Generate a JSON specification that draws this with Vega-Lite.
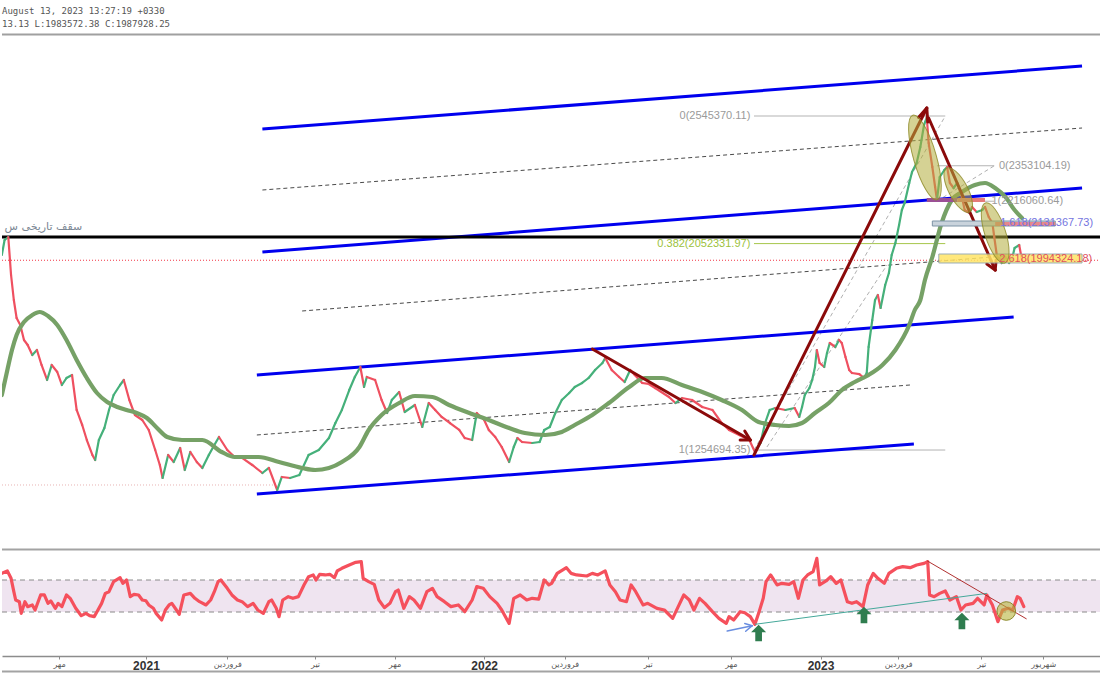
{
  "$schema": "https://vega.github.io/schema/vega-lite/v6.json",
  "padding": 0,
  "spacing": 0,
  "background": "#ffffff",
  "config": {"view": {"stroke": null}},
  "datasets": {
    "price": [
      {"d": -156, "p": 2008300}, {"d": -153, "p": 2066200}, {"d": -149, "p": 2077800}, {"d": -146, "p": 1931000},
      {"d": -143, "p": 1834400}, {"d": -140, "p": 1764900}, {"d": -136, "p": 1737800}, {"d": -132, "p": 1679800},
      {"d": -128, "p": 1660500}, {"d": -123, "p": 1621900}, {"d": -118, "p": 1641200}, {"d": -113, "p": 1583300},
      {"d": -107, "p": 1525300}, {"d": -102, "p": 1583300}, {"d": -96, "p": 1556200}, {"d": -91, "p": 1506000},
      {"d": -86, "p": 1533000}, {"d": -80, "p": 1544600}, {"d": -75, "p": 1409400}, {"d": -69, "p": 1351400},
      {"d": -64, "p": 1293400}, {"d": -58, "p": 1235500}, {"d": -55, "p": 1216200}, {"d": -51, "p": 1293400},
      {"d": -45, "p": 1339800}, {"d": -40, "p": 1409400}, {"d": -35, "p": 1467300}, {"d": -28, "p": 1506000},
      {"d": -24, "p": 1525300}, {"d": -18, "p": 1448000}, {"d": -12, "p": 1390100}, {"d": -4, "p": 1370700},
      {"d": 3, "p": 1332100}, {"d": 10, "p": 1254800}, {"d": 15, "p": 1196900}, {"d": 18, "p": 1146600},
      {"d": 24, "p": 1235500}, {"d": 30, "p": 1208500}, {"d": 37, "p": 1262500}, {"d": 42, "p": 1177500},
      {"d": 48, "p": 1247100}, {"d": 55, "p": 1208500}, {"d": 61, "p": 1185300}, {"d": 68, "p": 1235500},
      {"d": 74, "p": 1274100}, {"d": 79, "p": 1305100}, {"d": 88, "p": 1254800}, {"d": 96, "p": 1227800},
      {"d": 104, "p": 1224000}, {"d": 115, "p": 1196900}, {"d": 126, "p": 1165900}, {"d": 133, "p": 1185300},
      {"d": 142, "p": 1100200}, {"d": 147, "p": 1150500}, {"d": 156, "p": 1146600}, {"d": 166, "p": 1158200},
      {"d": 176, "p": 1235500}, {"d": 187, "p": 1254800}, {"d": 198, "p": 1301100}, {"d": 205, "p": 1359100},
      {"d": 212, "p": 1409400}, {"d": 220, "p": 1486600}, {"d": 226, "p": 1536900}, {"d": 232, "p": 1575600},
      {"d": 236, "p": 1498300}, {"d": 239, "p": 1536900}, {"d": 248, "p": 1525300}, {"d": 255, "p": 1448000},
      {"d": 261, "p": 1397800}, {"d": 266, "p": 1448000}, {"d": 274, "p": 1478900}, {"d": 280, "p": 1401700},
      {"d": 291, "p": 1428700}, {"d": 299, "p": 1343700}, {"d": 306, "p": 1436400}, {"d": 313, "p": 1409400},
      {"d": 320, "p": 1382400}, {"d": 329, "p": 1359100}, {"d": 339, "p": 1332100}, {"d": 345, "p": 1301100},
      {"d": 353, "p": 1293400}, {"d": 358, "p": 1397800}, {"d": 366, "p": 1370700}, {"d": 371, "p": 1332100},
      {"d": 378, "p": 1305100}, {"d": 385, "p": 1266400}, {"d": 393, "p": 1208500}, {"d": 398, "p": 1266400},
      {"d": 402, "p": 1301100}, {"d": 407, "p": 1285700}, {"d": 418, "p": 1281800}, {"d": 426, "p": 1285700},
      {"d": 431, "p": 1332100}, {"d": 437, "p": 1343700}, {"d": 443, "p": 1397800}, {"d": 450, "p": 1448000},
      {"d": 458, "p": 1475000}, {"d": 464, "p": 1498300}, {"d": 472, "p": 1513700}, {"d": 479, "p": 1533000},
      {"d": 486, "p": 1563900}, {"d": 494, "p": 1591000}, {"d": 497, "p": 1610300}, {"d": 504, "p": 1563900},
      {"d": 512, "p": 1536900}, {"d": 518, "p": 1517600}, {"d": 524, "p": 1563900}, {"d": 529, "p": 1544600},
      {"d": 537, "p": 1513700}, {"d": 544, "p": 1510000}, {"d": 551, "p": 1494400}, {"d": 566, "p": 1459600},
      {"d": 573, "p": 1436400}, {"d": 580, "p": 1455700}, {"d": 591, "p": 1448000}, {"d": 602, "p": 1421000},
      {"d": 613, "p": 1409400}, {"d": 623, "p": 1359100}, {"d": 631, "p": 1332100}, {"d": 642, "p": 1312800},
      {"d": 653, "p": 1293400}, {"d": 659, "p": 1247100}, {"d": 665, "p": 1281800}, {"d": 670, "p": 1359100},
      {"d": 675, "p": 1409400}, {"d": 681, "p": 1417100}, {"d": 692, "p": 1409400}, {"d": 702, "p": 1417100},
      {"d": 707, "p": 1382400}, {"d": 710, "p": 1421000}, {"d": 713, "p": 1467300}, {"d": 718, "p": 1494400},
      {"d": 721, "p": 1525300}, {"d": 724, "p": 1575600}, {"d": 726, "p": 1641200}, {"d": 729, "p": 1591000},
      {"d": 734, "p": 1575600}, {"d": 737, "p": 1629600}, {"d": 740, "p": 1668200}, {"d": 746, "p": 1652800},
      {"d": 750, "p": 1679800}, {"d": 753, "p": 1668200}, {"d": 757, "p": 1614200}, {"d": 761, "p": 1563900},
      {"d": 764, "p": 1552300}, {"d": 772, "p": 1548000}, {"d": 777, "p": 1533000}, {"d": 780, "p": 1552300},
      {"d": 782, "p": 1652800}, {"d": 786, "p": 1757100}, {"d": 789, "p": 1834400}, {"d": 792, "p": 1853700},
      {"d": 795, "p": 1803500}, {"d": 800, "p": 1892400}, {"d": 804, "p": 1938700}, {"d": 807, "p": 2008300},
      {"d": 811, "p": 2054600}, {"d": 815, "p": 2124200}, {"d": 818, "p": 2182200}, {"d": 821, "p": 2209200},
      {"d": 826, "p": 2286500}, {"d": 829, "p": 2329000}, {"d": 834, "p": 2363800}, {"d": 838, "p": 2425600},
      {"d": 842, "p": 2510600}, {"d": 845, "p": 2540000}, {"d": 847, "p": 2441000}, {"d": 851, "p": 2348400},
      {"d": 854, "p": 2271100}, {"d": 856, "p": 2220800}, {"d": 859, "p": 2309700}, {"d": 864, "p": 2336700},
      {"d": 867, "p": 2348400}, {"d": 870, "p": 2286500}, {"d": 874, "p": 2267100}, {"d": 878, "p": 2286500},
      {"d": 883, "p": 2232400}, {"d": 886, "p": 2182200}, {"d": 891, "p": 2170600}, {"d": 894, "p": 2193800},
      {"d": 899, "p": 2174500}, {"d": 905, "p": 2182200}, {"d": 908, "p": 2193800}, {"d": 912, "p": 2155200},
      {"d": 916, "p": 2131900}, {"d": 918, "p": 2077800}, {"d": 921, "p": 2000600}, {"d": 924, "p": 1995000},
      {"d": 926, "p": 1977400}, {"d": 930, "p": 2000600}, {"d": 934, "p": 1977400}, {"d": 937, "p": 1989000},
      {"d": 940, "p": 2035300}, {"d": 945, "p": 2046900}, {"d": 948, "p": 1987900}
    ],
    "ma": [
      {"d": -156, "p": 1467300}, {"d": -150, "p": 1563900}, {"d": -145, "p": 1641200}, {"d": -140, "p": 1699200},
      {"d": -132, "p": 1749400}, {"d": -123, "p": 1776400}, {"d": -115, "p": 1788000}, {"d": -106, "p": 1772600},
      {"d": -96, "p": 1737800}, {"d": -86, "p": 1679800}, {"d": -75, "p": 1602600}, {"d": -64, "p": 1533000},
      {"d": -53, "p": 1475000}, {"d": -42, "p": 1440300}, {"d": -31, "p": 1421000}, {"d": -21, "p": 1409400},
      {"d": -10, "p": 1397800}, {"d": 1, "p": 1378500}, {"d": 12, "p": 1339800}, {"d": 23, "p": 1305100},
      {"d": 39, "p": 1293400}, {"d": 61, "p": 1293400}, {"d": 82, "p": 1247100}, {"d": 96, "p": 1227800},
      {"d": 122, "p": 1227800}, {"d": 144, "p": 1208500}, {"d": 169, "p": 1185300}, {"d": 183, "p": 1177500},
      {"d": 198, "p": 1185300}, {"d": 212, "p": 1208500}, {"d": 231, "p": 1266400}, {"d": 241, "p": 1332100},
      {"d": 255, "p": 1390100}, {"d": 274, "p": 1436400}, {"d": 291, "p": 1463400}, {"d": 310, "p": 1459600},
      {"d": 328, "p": 1428700}, {"d": 350, "p": 1397800}, {"d": 371, "p": 1370700}, {"d": 393, "p": 1339800},
      {"d": 410, "p": 1320500}, {"d": 432, "p": 1312800}, {"d": 450, "p": 1324400}, {"d": 464, "p": 1351400},
      {"d": 483, "p": 1390100}, {"d": 501, "p": 1436400}, {"d": 523, "p": 1498300}, {"d": 540, "p": 1533000},
      {"d": 558, "p": 1533000}, {"d": 580, "p": 1506000}, {"d": 602, "p": 1478900}, {"d": 623, "p": 1448000},
      {"d": 645, "p": 1409400}, {"d": 663, "p": 1363000}, {"d": 681, "p": 1351400}, {"d": 696, "p": 1347600},
      {"d": 710, "p": 1359100}, {"d": 724, "p": 1397800}, {"d": 739, "p": 1436400}, {"d": 753, "p": 1486600},
      {"d": 767, "p": 1517600}, {"d": 782, "p": 1544600}, {"d": 797, "p": 1583300}, {"d": 811, "p": 1641200},
      {"d": 826, "p": 1737800}, {"d": 832, "p": 1795800}, {"d": 838, "p": 1834400}, {"d": 843, "p": 1911700},
      {"d": 851, "p": 2000600}, {"d": 861, "p": 2131900}, {"d": 872, "p": 2220800}, {"d": 883, "p": 2251700},
      {"d": 897, "p": 2278800}, {"d": 908, "p": 2286500}, {"d": 919, "p": 2267100}, {"d": 930, "p": 2232400},
      {"d": 940, "p": 2182200}, {"d": 948, "p": 2151200}
    ],
    "rsi": [
      {"d": -156, "r": 78.3}, {"d": -150, "r": 81.3}, {"d": -146, "r": 72.1}, {"d": -143, "r": 55.4},
      {"d": -141, "r": 45}, {"d": -137, "r": 42.9}, {"d": -135, "r": 28.3}, {"d": -131, "r": 42.9},
      {"d": -128, "r": 36.7}, {"d": -123, "r": 38.8}, {"d": -120, "r": 32.5}, {"d": -114, "r": 51.3},
      {"d": -110, "r": 51.3}, {"d": -106, "r": 40.8}, {"d": -103, "r": 43.8}, {"d": -98, "r": 34.6},
      {"d": -95, "r": 40.8}, {"d": -91, "r": 36.7}, {"d": -86, "r": 51.3}, {"d": -82, "r": 47.1},
      {"d": -76, "r": 34.6}, {"d": -70, "r": 25.4}, {"d": -65, "r": 28.3}, {"d": -61, "r": 25.4},
      {"d": -56, "r": 24.2}, {"d": -53, "r": 30.4}, {"d": -48, "r": 40.8}, {"d": -44, "r": 53.3},
      {"d": -40, "r": 55.4}, {"d": -35, "r": 67.9}, {"d": -28, "r": 72.9}, {"d": -25, "r": 65.8},
      {"d": -21, "r": 70}, {"d": -17, "r": 49.2}, {"d": -13, "r": 52.1}, {"d": -8, "r": 51.3},
      {"d": -4, "r": 45}, {"d": 0, "r": 44}, {"d": 3, "r": 38.8}, {"d": 8, "r": 34.6},
      {"d": 11, "r": 28.3}, {"d": 17, "r": 20}, {"d": 21, "r": 32.5}, {"d": 25, "r": 38.8},
      {"d": 28, "r": 40.8}, {"d": 33, "r": 32.5}, {"d": 36, "r": 27.1}, {"d": 41, "r": 51.3},
      {"d": 48, "r": 53.3}, {"d": 53, "r": 47.1}, {"d": 58, "r": 42.9}, {"d": 65, "r": 38.8},
      {"d": 70, "r": 45}, {"d": 74, "r": 55.4}, {"d": 78, "r": 67.9}, {"d": 81, "r": 70},
      {"d": 88, "r": 59.6}, {"d": 93, "r": 51.3}, {"d": 99, "r": 45}, {"d": 104, "r": 42.9},
      {"d": 110, "r": 36.7}, {"d": 116, "r": 40.8}, {"d": 121, "r": 32.5}, {"d": 127, "r": 28.3},
      {"d": 133, "r": 42.9}, {"d": 136, "r": 45}, {"d": 141, "r": 34.6}, {"d": 144, "r": 24.2},
      {"d": 148, "r": 45}, {"d": 154, "r": 49.2}, {"d": 159, "r": 47.1}, {"d": 165, "r": 49.2},
      {"d": 171, "r": 63.8}, {"d": 176, "r": 74.2}, {"d": 181, "r": 76.3}, {"d": 184, "r": 70},
      {"d": 188, "r": 77.1}, {"d": 194, "r": 76.3}, {"d": 199, "r": 77.1}, {"d": 204, "r": 72.9},
      {"d": 207, "r": 81.3}, {"d": 212, "r": 84.6}, {"d": 220, "r": 88.8}, {"d": 227, "r": 92.1},
      {"d": 233, "r": 92.9}, {"d": 235, "r": 72.1}, {"d": 241, "r": 67.9}, {"d": 247, "r": 64.6},
      {"d": 252, "r": 45}, {"d": 258, "r": 35.4}, {"d": 264, "r": 40.8}, {"d": 270, "r": 55.4},
      {"d": 273, "r": 57.5}, {"d": 279, "r": 34.6}, {"d": 285, "r": 49.2}, {"d": 290, "r": 45},
      {"d": 297, "r": 34.6}, {"d": 304, "r": 55.4}, {"d": 310, "r": 59.6}, {"d": 315, "r": 49.2},
      {"d": 323, "r": 42.9}, {"d": 330, "r": 36.7}, {"d": 338, "r": 38.8}, {"d": 345, "r": 30.4},
      {"d": 353, "r": 45}, {"d": 358, "r": 61.7}, {"d": 365, "r": 59.6}, {"d": 372, "r": 49.2},
      {"d": 380, "r": 40.8}, {"d": 385, "r": 32.5}, {"d": 393, "r": 15.8}, {"d": 398, "r": 47.1},
      {"d": 405, "r": 51.3}, {"d": 412, "r": 45}, {"d": 418, "r": 47.1}, {"d": 425, "r": 46},
      {"d": 431, "r": 70}, {"d": 436, "r": 63.8}, {"d": 439, "r": 65.8}, {"d": 445, "r": 78.3},
      {"d": 455, "r": 85.4}, {"d": 460, "r": 78.3}, {"d": 466, "r": 76.3}, {"d": 477, "r": 75},
      {"d": 483, "r": 78.3}, {"d": 489, "r": 76.3}, {"d": 497, "r": 81.3}, {"d": 502, "r": 63.8},
      {"d": 508, "r": 55.4}, {"d": 513, "r": 45}, {"d": 520, "r": 42.9}, {"d": 525, "r": 63.8},
      {"d": 530, "r": 55.4}, {"d": 538, "r": 38.8}, {"d": 543, "r": 40.8}, {"d": 553, "r": 34.6},
      {"d": 561, "r": 32.5}, {"d": 570, "r": 22.1}, {"d": 576, "r": 36.7}, {"d": 582, "r": 51.3},
      {"d": 588, "r": 45}, {"d": 593, "r": 32.5}, {"d": 599, "r": 47.1}, {"d": 605, "r": 40.8},
      {"d": 613, "r": 30.4}, {"d": 620, "r": 22.1}, {"d": 628, "r": 15.8}, {"d": 631, "r": 24.2},
      {"d": 636, "r": 20}, {"d": 643, "r": 30.4}, {"d": 648, "r": 29}, {"d": 654, "r": 24.2},
      {"d": 659, "r": 14.6}, {"d": 663, "r": 28.3}, {"d": 668, "r": 47.1}, {"d": 671, "r": 67.9},
      {"d": 676, "r": 76.3}, {"d": 683, "r": 63.8}, {"d": 688, "r": 65.8}, {"d": 696, "r": 64.5},
      {"d": 701, "r": 67.9}, {"d": 706, "r": 47.1}, {"d": 711, "r": 70}, {"d": 716, "r": 76.3},
      {"d": 722, "r": 80.4}, {"d": 726, "r": 97.1}, {"d": 729, "r": 63.8}, {"d": 736, "r": 68.8},
      {"d": 741, "r": 74.2}, {"d": 747, "r": 65.8}, {"d": 752, "r": 70}, {"d": 759, "r": 42.9},
      {"d": 764, "r": 40.8}, {"d": 769, "r": 42.9}, {"d": 776, "r": 36.7}, {"d": 781, "r": 63.8},
      {"d": 787, "r": 78.3}, {"d": 792, "r": 72.1}, {"d": 799, "r": 65.8}, {"d": 804, "r": 78.3},
      {"d": 812, "r": 84.6}, {"d": 819, "r": 86.7}, {"d": 827, "r": 85.4}, {"d": 834, "r": 88.8},
      {"d": 842, "r": 90.8}, {"d": 846, "r": 92.9}, {"d": 848, "r": 51.3}, {"d": 853, "r": 49.2},
      {"d": 859, "r": 53.3}, {"d": 865, "r": 56.3}, {"d": 870, "r": 45}, {"d": 877, "r": 49.2},
      {"d": 882, "r": 32.5}, {"d": 887, "r": 38.8}, {"d": 895, "r": 40.8}, {"d": 900, "r": 47.1},
      {"d": 907, "r": 38.8}, {"d": 910, "r": 51.3}, {"d": 916, "r": 38.8}, {"d": 922, "r": 17.9},
      {"d": 927, "r": 32.5}, {"d": 933, "r": 34.6}, {"d": 938, "r": 32.5}, {"d": 943, "r": 49.2},
      {"d": 946, "r": 47.1}, {"d": 950, "r": 36.7}
    ]
  },
  "vconcat": [
    {
      "width": 1100,
      "height": 548,
      "encoding": {
        "x": {"field": "d", "type": "quantitative", "scale": {"domain": [-155.8, 1034.6], "nice": false, "zero": false}, "axis": null},
        "y": {"field": "p", "type": "quantitative", "scale": {"domain": [876122, 2993594], "nice": false, "zero": false}, "axis": null}
      },
      "layer": [
        {"data": {"values": [{"d": -155.8, "d2": 1034.6, "p": 2860300}]}, "mark": {"type": "rule", "color": "#a0a0a0", "strokeWidth": 2}, "encoding": {"x2": {"field": "d2"}}},
        {"data": {"values": [{"d": -155.8, "d2": 142, "p": 1119600}]}, "mark": {"type": "rule", "color": "#e8b4b4", "strokeWidth": 1, "strokeDash": [1, 2]}, "encoding": {"x2": {"field": "d2"}}},
        {"data": {"values": [{"d": -155.8, "d2": 1034.6, "p": 1987928}]}, "mark": {"type": "rule", "color": "#f23645", "strokeWidth": 1, "strokeDash": [1, 2]}, "encoding": {"x2": {"field": "d2"}}},
        {"data": {"values": [{"d": 658, "d2": 865, "p": 2545370}, {"d": 658, "d2": 865, "p": 1254694}, {"d": 856, "d2": 918, "p": 2353104}, {"d": 856, "d2": 918, "p": 2216061}]}, "mark": {"type": "rule", "color": "#b3b3b3", "strokeWidth": 1}, "encoding": {"x2": {"field": "d2"}}},
        {"data": {"values": [{"d": 658, "d2": 865, "p": 2052332}]}, "mark": {"type": "rule", "color": "#a6c64a", "strokeWidth": 1}, "encoding": {"x2": {"field": "d2"}}},
        {"data": {"values": [{"d": 658, "p": 1254694, "d2": 865, "p2": 2545370}, {"d": 672, "p": 1266400, "d2": 802, "p2": 1969700}, {"d": 856, "p": 2216061, "d2": 918, "p2": 2353104}]}, "mark": {"type": "rule", "color": "#b0b0b0", "strokeWidth": 1, "strokeDash": [4, 3]}, "encoding": {"x2": {"field": "d2"}, "y2": {"field": "p2"}}},
        {"data": {"values": [{"d": 126, "p": 2259400, "d2": 1013, "p2": 2499000}, {"d": 169, "p": 1791900, "d2": 930, "p2": 2004400}, {"d": 120, "p": 1312800, "d2": 827, "p2": 1506000}]}, "mark": {"type": "rule", "color": "#4a4a4a", "strokeWidth": 1, "strokeDash": [4, 3]}, "encoding": {"x2": {"field": "d2"}, "y2": {"field": "p2"}}},
        {"data": {"values": [{"d": 126, "p": 2495100, "d2": 1013, "p2": 2738600}, {"d": 126, "p": 2019900, "d2": 1013, "p2": 2267200}, {"d": 120, "p": 1544600, "d2": 939, "p2": 1768800}, {"d": 120, "p": 1084700, "d2": 831, "p2": 1277900}]}, "mark": {"type": "rule", "color": "#0000ee", "strokeWidth": 3}, "encoding": {"x2": {"field": "d2"}, "y2": {"field": "p2"}}},
        {"data": {"values": [{"d": -155.8, "d2": 1034.6, "p": 2077800}]}, "mark": {"type": "rule", "color": "#000000", "strokeWidth": 3}, "encoding": {"x2": {"field": "d2"}}},
        {
          "data": {"name": "price"},
          "transform": [
            {"window": [{"op": "lead", "field": "d", "as": "d2"}, {"op": "lead", "field": "p", "as": "p2"}], "sort": [{"field": "d", "order": "ascending"}]},
            {"filter": "datum.d2 != null"}
          ],
          "mark": {"type": "rule", "strokeWidth": 2.2, "strokeCap": "round", "clip": true},
          "encoding": {
            "x2": {"field": "d2"},
            "y2": {"field": "p2"},
            "color": {"condition": {"test": "datum.p2 >= datum.p", "value": "#45b07a"}, "value": "#ef5060"}
          }
        },
        {"data": {"name": "ma"}, "mark": {"type": "line", "color": "#76a166", "strokeWidth": 4.2, "interpolate": "monotone", "strokeCap": "round", "clip": true}},
        {"data": {"values": [
          {"d": 483, "p": 1645100, "d2": 654, "p2": 1293400}, {"d": 654, "p": 1293400, "d2": 648, "p2": 1328200}, {"d": 654, "p": 1293400, "d2": 643, "p2": 1293400},
          {"d": 658, "p": 1235500, "d2": 845, "p2": 2576200}, {"d": 845, "p": 2576200, "d2": 836, "p2": 2539600}, {"d": 845, "p": 2576200, "d2": 846, "p2": 2522200},
          {"d": 847, "p": 2537600, "d2": 919, "p2": 1950300}, {"d": 919, "p": 1950300, "d2": 920, "p2": 1989000}, {"d": 919, "p": 1950300, "d2": 910, "p2": 1973500}
        ]}, "mark": {"type": "rule", "color": "#8b0a0a", "strokeWidth": 3, "strokeCap": "round"}, "encoding": {"x2": {"field": "d2"}, "y2": {"field": "p2"}}},
        {"data": {"values": [{"d": 851, "d2": 984, "p": 2139600, "p2": 2120300}]}, "mark": {"type": "rect", "fill": "#c9d3dc", "stroke": "#7d93a6", "strokeWidth": 1}, "encoding": {"x2": {"field": "d2"}, "y2": {"field": "p2"}}},
        {"data": {"values": [{"d": 919, "d2": 984, "p": 2135800, "p2": 2120300}]}, "mark": {"type": "rect", "fill": "#ea8080", "opacity": 0.9}, "encoding": {"x2": {"field": "d2"}, "y2": {"field": "p2"}}},
        {"data": {"values": [{"d": 845, "d2": 878, "p": 2228500, "p2": 2213100}]}, "mark": {"type": "rect", "fill": "#9b4f96"}, "encoding": {"x2": {"field": "d2"}, "y2": {"field": "p2"}}},
        {"data": {"values": [{"d": 878, "d2": 908, "p": 2228500, "p2": 2213100}]}, "mark": {"type": "rect", "fill": "#e57a7a"}, "encoding": {"x2": {"field": "d2"}, "y2": {"field": "p2"}}},
        {"data": {"values": [{"d": 858, "d2": 1013, "p": 2012100, "p2": 1977400}]}, "mark": {"type": "rect", "fill": "#ffe566", "opacity": 0.85, "stroke": "#8aa0aa", "strokeWidth": 1}, "encoding": {"x2": {"field": "d2"}, "y2": {"field": "p2"}}},
        {"data": {"values": [{"d": 843, "p": 2385100}]}, "mark": {"type": "point", "shape": "M0,-1A0.26,1,0,1,1,0,1A0.26,1,0,1,1,0,-1Z", "size": 7744, "angle": -16, "filled": true, "fill": "#b3ad3c", "fillOpacity": 0.55, "stroke": "#8c8826", "strokeWidth": 1, "strokeOpacity": 0.8}},
        {"data": {"values": [{"d": 879, "p": 2259400}]}, "mark": {"type": "point", "shape": "M0,-1A0.38,1,0,1,1,0,1A0.38,1,0,1,1,0,-1Z", "size": 2460, "angle": -28, "filled": true, "fill": "#b3ad3c", "fillOpacity": 0.55, "stroke": "#8c8826", "strokeWidth": 1, "strokeOpacity": 0.8}},
        {"data": {"values": [{"d": 919, "p": 2093300}]}, "mark": {"type": "point", "shape": "M0,-1A0.33,1,0,1,1,0,1A0.33,1,0,1,1,0,-1Z", "size": 3969, "angle": -18, "filled": true, "fill": "#b3ad3c", "fillOpacity": 0.55, "stroke": "#8c8826", "strokeWidth": 1, "strokeOpacity": 0.8}},
        {"data": {"values": [{"d": 654, "p": 2545370, "label": "0(2545370.11)"}, {"d": 654, "p": 1254694, "label": "1(1254694.35)"}]}, "mark": {"type": "text", "align": "right", "baseline": "middle", "font": "Liberation Sans", "fontSize": 11, "color": "#9a9a9a"}, "encoding": {"text": {"field": "label"}}},
        {"data": {"values": [{"d": 654, "p": 2052332, "label": "0.382(2052331.97)"}]}, "mark": {"type": "text", "align": "right", "baseline": "middle", "font": "Liberation Sans", "fontSize": 11, "color": "#9cc23c"}, "encoding": {"text": {"field": "label"}}},
        {"data": {"values": [{"d": 923, "p": 2353104, "label": "0(2353104.19)"}, {"d": 915, "p": 2216061, "label": "1(2216060.64)"}]}, "mark": {"type": "text", "align": "left", "baseline": "middle", "font": "Liberation Sans", "fontSize": 11, "color": "#9a9a9a"}, "encoding": {"text": {"field": "label"}}},
        {"data": {"values": [{"d": 1025, "p": 2131368, "label": "1.618(2131367.73)"}]}, "mark": {"type": "text", "align": "right", "baseline": "middle", "font": "Liberation Sans", "fontSize": 11, "color": "#7474e0"}, "encoding": {"text": {"field": "label"}}},
        {"data": {"values": [{"d": 1024, "p": 1994324, "label": "2.618(1994324.18)"}]}, "mark": {"type": "text", "align": "right", "baseline": "middle", "font": "Liberation Sans", "fontSize": 11, "color": "#e0505e"}, "encoding": {"text": {"field": "label"}}},
        {"data": {"values": [{"d": -69, "p": 2116500, "label": "سقف تاریخی س"}]}, "mark": {"type": "text", "align": "right", "baseline": "middle", "font": "DejaVu Sans", "fontSize": 11, "color": "#7b8794"}, "encoding": {"text": {"field": "label"}}},
        {"data": {"values": [{"d": -155.8, "p": 2951090, "label": "August 13, 2023 13:27:19 +0330"}, {"d": -155.8, "p": 2900858, "label": "13.13 L:1983572.38 C:1987928.25"}]}, "mark": {"type": "text", "align": "left", "baseline": "middle", "font": "DejaVu Sans Mono", "fontSize": 9, "color": "#555555"}, "encoding": {"text": {"field": "label"}}}
      ]
    },
    {
      "width": 1100,
      "height": 123,
      "encoding": {
        "x": {
          "field": "d", "type": "quantitative",
          "scale": {"domain": [-155.8, 1034.6], "nice": false, "zero": false},
          "axis": {
            "orient": "bottom",
            "offset": -16,
            "title": null,
            "grid": false,
            "values": [-94, 0, 88, 183, 269, 366, 453, 543, 633, 730, 814, 904, 971],
            "labelExpr": "datum.value == -94 || datum.value == 269 || datum.value == 633 ? 'مهر' : datum.value == 0 ? '2021' : datum.value == 366 ? '2022' : datum.value == 730 ? '2023' : (datum.value == 88 || datum.value == 453 || datum.value == 814) ? 'فروردین' : (datum.value == 183 || datum.value == 543 || datum.value == 904) ? 'تیر' : 'شهریور'",
            "domainColor": "#8c8c8c",
            "domainWidth": 1.5,
            "tickColor": "#8c8c8c",
            "tickSize": 3,
            "labelPadding": 1,
            "labelFlush": false,
            "labelOverlap": false,
            "labelBound": false,
            "labelFont": {"condition": {"test": "datum.value == 0 || datum.value == 366 || datum.value == 730", "value": "Liberation Sans"}, "value": "DejaVu Sans"},
            "labelFontSize": {"condition": {"test": "datum.value == 0 || datum.value == 366 || datum.value == 730", "value": 12}, "value": 8},
            "labelFontWeight": {"condition": {"test": "datum.value == 0 || datum.value == 366 || datum.value == 730", "value": "bold"}, "value": "normal"},
            "labelColor": {"condition": {"test": "datum.value == 0 || datum.value == 366 || datum.value == 730", "value": "#333333"}, "value": "#555555"}
          }
        },
        "y": {"field": "r", "type": "quantitative", "scale": {"domain": [-45, 108.75], "nice": false, "zero": false}, "axis": null}
      },
      "layer": [
        {"data": {"values": [{"d": -155.8, "d2": 1034.6, "r": 30, "r2": 70}]}, "mark": {"type": "rect", "color": "#efe4f0"}, "encoding": {"x2": {"field": "d2"}, "y2": {"field": "r2"}}},
        {"data": {"values": [{"d": -155.8, "d2": 1034.6, "r": 70}, {"d": -155.8, "d2": 1034.6, "r": 30}]}, "mark": {"type": "rule", "color": "#8a8a8a", "strokeWidth": 1, "strokeDash": [5, 4]}, "encoding": {"x2": {"field": "d2"}}},
        {"data": {"values": [{"d": -155.8, "d2": 1034.6, "r": 108}, {"d": -155.8, "d2": 1034.6, "r": -44.3}]}, "mark": {"type": "rule", "color": "#a3a3a3", "strokeWidth": 2}, "encoding": {"x2": {"field": "d2"}}},
        {"data": {"name": "rsi"}, "mark": {"type": "line", "color": "#f5505c", "strokeWidth": 3.2, "strokeJoin": "round", "strokeCap": "round", "clip": true}},
        {"data": {"values": [{"d": 659, "r": 14.6, "d2": 910, "r2": 53.3}]}, "mark": {"type": "rule", "color": "#45a89a", "strokeWidth": 1}, "encoding": {"x2": {"field": "d2"}, "y2": {"field": "r2"}}},
        {"data": {"values": [{"d": 845, "r": 94.2, "d2": 953, "r2": 21.3}]}, "mark": {"type": "rule", "color": "#b03030", "strokeWidth": 1}, "encoding": {"x2": {"field": "d2"}, "y2": {"field": "r2"}}},
        {"data": {"values": [{"d": 931, "r": 31.25}]}, "mark": {"type": "point", "shape": "circle", "size": 346, "filled": true, "fill": "#b8b43c", "fillOpacity": 0.6, "stroke": "#8c8a2c", "strokeWidth": 1}},
        {"data": {"values": [{"d": 663, "r": 3.75}, {"d": 777, "r": 26.25}, {"d": 883, "r": 18.75}]}, "mark": {"type": "point", "shape": "M0,-1L0.9,-0.1L0.4,-0.1L0.4,1L-0.4,1L-0.4,-0.1L-0.9,-0.1Z", "size": 280, "filled": true, "fill": "#2f7d4f", "opacity": 1}},
        {"data": {"values": [{"d": 629, "r": 6.25, "d2": 656, "r2": 12.9}, {"d": 656, "r": 12.9, "d2": 648, "r2": 15.7}, {"d": 656, "r": 12.9, "d2": 649, "r2": 6.0}]}, "mark": {"type": "rule", "color": "#6a8ee0", "strokeWidth": 1.5, "strokeCap": "round"}, "encoding": {"x2": {"field": "d2"}, "y2": {"field": "r2"}}}
      ]
    }
  ]
}
